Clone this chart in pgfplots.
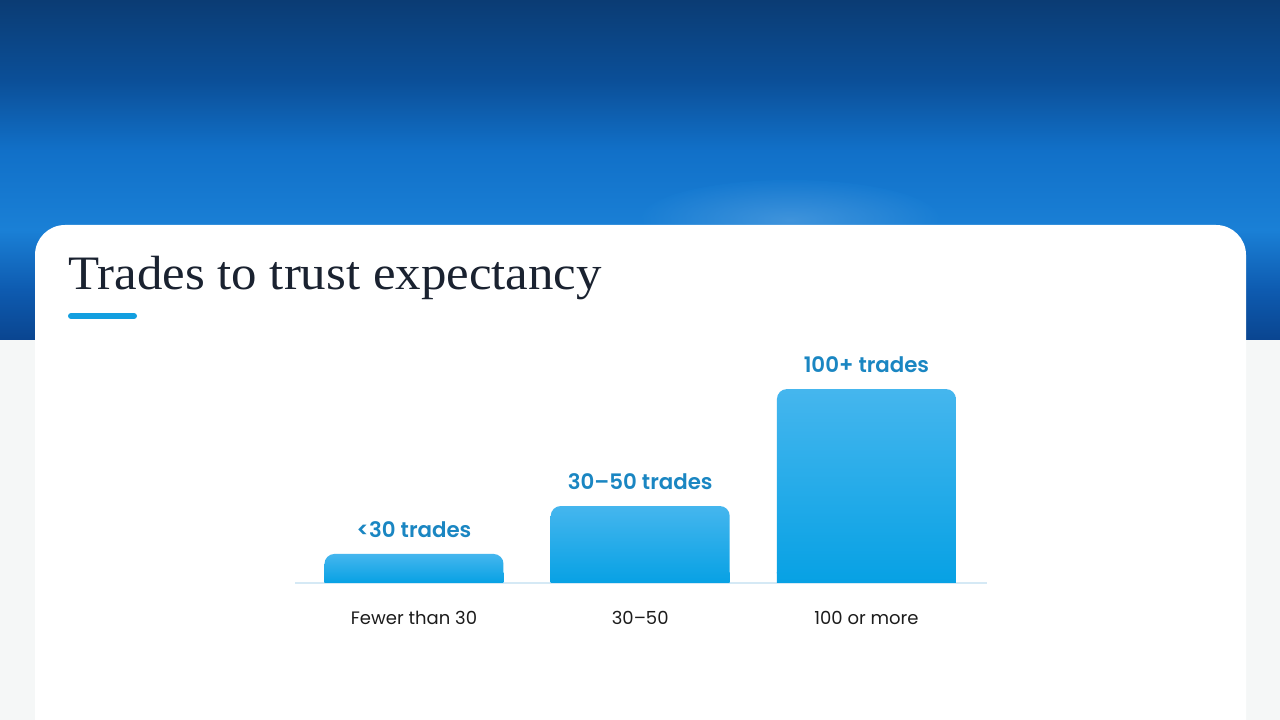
\documentclass[border=0pt]{standalone}
\usepackage{fontspec}
\setmainfont{Poppins}[BoldFont={Poppins SemiBold}]
\newfontfamily\titlefont[FakeStretch=1.06]{Liberation Serif}
\usepackage{pgfplots}
\pgfplotsset{compat=1.18}

\definecolor{bartop}{HTML}{45B6EE}
\definecolor{barbot}{HTML}{07A1E4}
\colorlet{footA}{bartop!34!barbot}
\colorlet{footB}{bartop!13!barbot}
\colorlet{footC}{bartop!5!barbot}
\definecolor{vallab}{HTML}{1A86C2}
\definecolor{ticktext}{HTML}{1C1C1C}
\definecolor{baseline}{HTML}{D5E9F5}
\definecolor{titlecol}{HTML}{1A2230}
\definecolor{accent}{HTML}{139FE0}
\definecolor{pagegray}{HTML}{F5F7F7}
\definecolor{bnA}{HTML}{0B3C74}
\definecolor{bnB}{HTML}{0B4F98}
\definecolor{bnC}{HTML}{1170C8}
\definecolor{bnD}{HTML}{1A80D6}
\definecolor{bnE}{HTML}{0E5BB0}
\definecolor{bnF}{HTML}{0A4590}

\pgfdeclareverticalshading{banner}{100bp}{
  color(0bp)=(bnF); color(25bp)=(bnF); color(32.4bp)=(bnE);
  color(41.2bp)=(bnD); color(52.9bp)=(bnC); color(63.2bp)=(bnB);
  color(75bp)=(bnA); color(100bp)=(bnA)}

\pgfplotsset{
  trustbar/.style={draw=none, bottom color=barbot, top color=bartop,
    rounded corners=7.5pt,
    nodes near coords, point meta=explicit symbolic,
    every node near coord/.append style={
      font=\bfseries\fontsize{16pt}{19pt}\selectfont,
      text=vallab, anchor=base, yshift=12.4pt}},
}

\begin{document}
\begin{tikzpicture}[x=0.75pt, y=0.75pt]
% page, 1280 x 720 px, y measured upward
\fill[pagegray] (0,0) rectangle (1280,720);
\path[use as bounding box] (0,0) rectangle (1280,720);
\shade[shading=banner] (0,380) rectangle (1280,720);
\shade[inner color=white!55!bnD, outer color=bnD, opacity=0.3]
  (790,500) ellipse (150 and 40);

% card
\fill[white, rounded corners=22.5pt] (35,-40) rectangle (1246,495);

% title and accent bar
\node[anchor=base west, inner sep=0pt, text=titlecol,
      font=\titlefont\fontsize{36pt}{42pt}\selectfont] at (68,430)
  {Trades to trust expectancy};
\draw[accent, line width=4.5pt, line cap=round] (71,404) -- (134,404);

\begin{axis}[
  at={(221.25pt,102.75pt)}, anchor=south west,
  scale only axis, width=519pt, height=182.25pt,
  xmin=-0.526, xmax=2.533, ymin=0, ymax=125.3,
  hide y axis,
  axis x line*=bottom,
  x axis line style={-, draw=baseline, line width=1.5pt},
  xtick={0,1,2},
  xticklabels={Fewer than 30, 30–50, 100 or more},
  major tick length=0pt,
  xticklabel style={font=\fontsize{13.5pt}{16pt}\selectfont,
    text=ticktext, anchor=base, yshift=-31.5pt},
  ybar, bar width=134.25pt, bar shift=0pt,
  clip=false,
]
\addplot[trustbar] coordinates {(0,15) [<30 trades]};
\addplot[trustbar] coordinates {(1,39.7) [30–50 trades]};
\addplot[trustbar] coordinates {(2,100) [100+ trades]};
% square off the lower corners of each bar
\addplot[draw=none, bottom color=barbot, top color=footA] coordinates {(0,5.2)};
\addplot[draw=none, bottom color=barbot, top color=footB] coordinates {(1,5.2)};
\addplot[draw=none, bottom color=barbot, top color=footC] coordinates {(2,5.2)};
\end{axis}
\end{tikzpicture}
\end{document}
